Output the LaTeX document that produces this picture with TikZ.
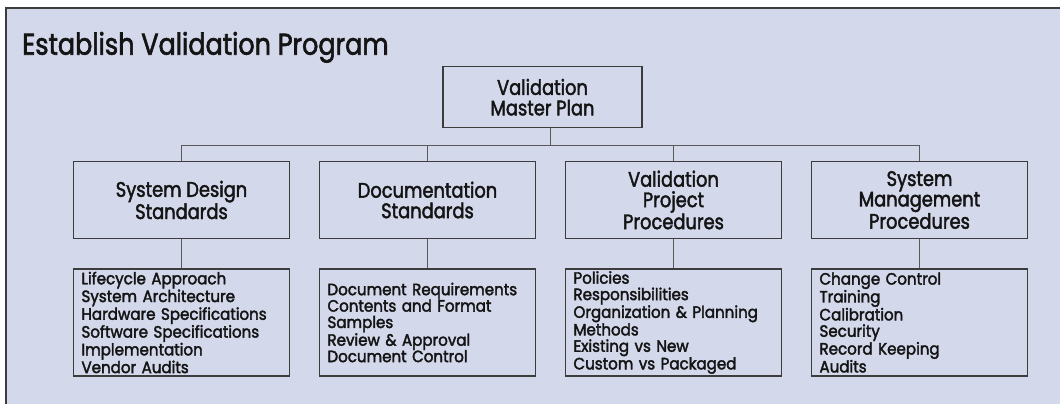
\documentclass[tikz,border=0pt]{standalone}
\usepackage{fontspec}
\setmainfont{Poppins}
\newfontfamily\chartfont[FakeStretch=0.85,FakeBold=2.0]{Poppins}
\newfontfamily\listfont[FakeStretch=0.92,FakeBold=2.2]{Poppins}
\definecolor{panel}{HTML}{D3D8EA}
\definecolor{ink}{HTML}{141414}
\definecolor{rule}{HTML}{3C3C3C}
\tikzset{
  headbox/.style={draw=rule, line width=1.1pt, minimum width=216pt, minimum height=76.6pt,
    align=center, inner sep=0pt, text=ink,
    font=\chartfont\fontsize{21}{20.5}\selectfont},
  masterbox/.style={headbox, minimum width=199pt, minimum height=61pt},
  listbox/.style={draw=rule, line width=1.1pt, minimum width=216pt, minimum height=107pt,
    text width=200pt, align=left, inner xsep=8pt, inner ysep=0pt, text=ink,
    font=\listfont\fontsize{16.4}{16.4}\selectfont},
  link/.style={draw=rule!85!white, line width=1pt}
}
\begin{document}
\begin{tikzpicture}[x=1pt, y=-1pt]
  \useasboundingbox (0,0) rectangle (1060,404);
  \clip (0,0) rectangle (1060,404);
  % panel
  \fill[white] (0,0) rectangle (1060,404);
  \draw[draw=rule, line width=1.3pt, fill=panel] (6,8) rectangle (1075,420);
  \node[anchor=base west, text=ink, inner sep=0pt,
        font=\chartfont\fontsize{30}{30}\selectfont] (title) at (22,54.7) {Establish Validation Program};

  % top of the tree
  \node[masterbox] (master) at (542.5,97.2) {Validation\\Master Plan};

  % second tier
  \node[headbox] (sd) at (181.5,200) {System Design\\Standards};
  \node[headbox] (ds) at (427.5,200) {Documentation\\Standards};
  \node[headbox] (vp) at (673.5,200) {Validation\\Project\\Procedures};
  \node[headbox] (sm) at (919.5,200) {System\\Management\\Procedures};

  % detail lists
  \node[listbox] (sdl) at (181.5,322.5) {Lifecycle Approach\\System Architecture\\Hardware Specifications\\Software Specifications\\Implementation\\Vendor Audits};
  \node[listbox] (dsl) at (427.5,322.5) {Document Requirements\\Contents and Format\\Samples\\Review \& Approval\\Document Control};
  \node[listbox] (vpl) at (673.5,322.5) {Policies\\Responsibilities\\Organization \& Planning\\Methods\\Existing vs New\\Custom vs Packaged};
  \node[listbox] (sml) at (919.5,322.5) {Change Control\\Training\\Calibration\\Security\\Record Keeping\\Audits};

  % connectors
  \coordinate (bus) at (550,145);
  \draw[link] (master.south -| bus) -- (bus);
  \draw[link] (sd.north) -- (sd.north |- bus) -- (sm.north |- bus) -- (sm.north);
  \draw[link] (ds.north) -- (ds.north |- bus);
  \draw[link] (vp.north) -- (vp.north |- bus);
  \foreach \a/\b in {sd/sdl, ds/dsl, vp/vpl, sm/sml}
    \draw[link] (\a.south) -- (\b.north);
\end{tikzpicture}
\end{document}
